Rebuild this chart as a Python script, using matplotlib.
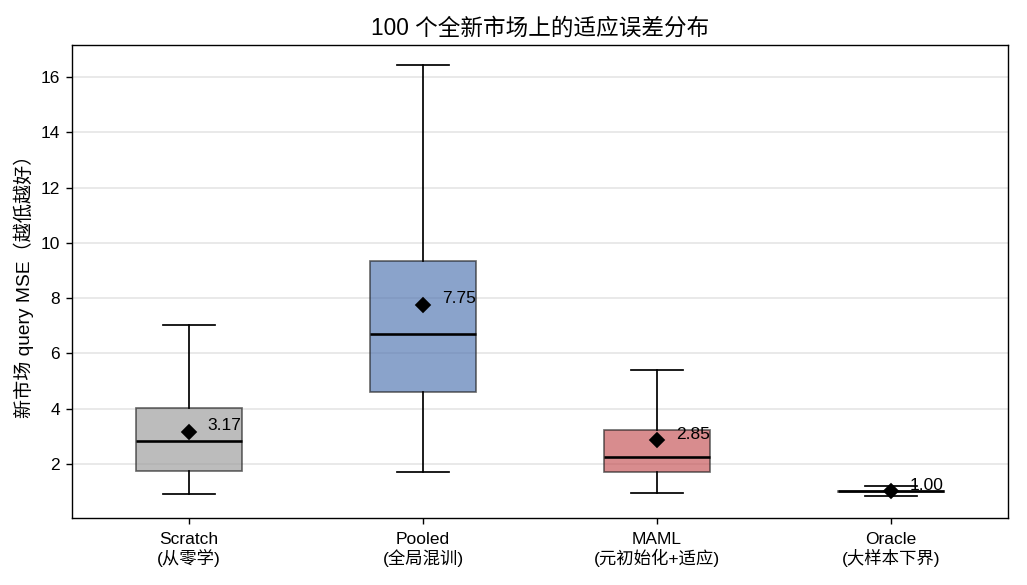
import matplotlib.pyplot as plt

plt.rcParams['font.family'] = ['Liberation Sans', 'Noto Sans CJK SC', 'DejaVu Sans']

# box statistics
labels = ['Scratch\n(从零学)', 'Pooled\n(全局混训)', 'MAML\n(元初始化+适应)', 'Oracle\n(大样本下界)']
whislo = [0.91, 1.71, 0.95, 0.85]
q1 = [1.75, 4.60, 1.71, 0.98]
med = [2.83, 6.70, 2.25, 1.00]
q3 = [4.03, 9.34, 3.23, 1.03]
whishi = [7.03, 16.43, 5.40, 1.21]
means = [3.17, 7.75, 2.85, 1.00]
colors = ['#999999', '#4c72b0', '#c44e52', '#999999']

stats = []
for i in range(len(labels)):
    stats.append({'label': labels[i], 'whislo': whislo[i], 'q1': q1[i], 'med': med[i],
                  'q3': q3[i], 'whishi': whishi[i], 'mean': means[i], 'fliers': []})

fig, ax = plt.subplots(figsize=(1027 / 125, 585 / 125), dpi=125)

bp = ax.bxp(stats, widths=0.45, patch_artist=True, showmeans=True, showfliers=False,
            medianprops=dict(color='black', linewidth=1.5),
            meanprops=dict(marker='D', markerfacecolor='black', markeredgecolor='black', markersize=6),
            whiskerprops=dict(color='black', linewidth=1.0),
            capprops=dict(color='black', linewidth=1.0))

for patch, c in zip(bp['boxes'], colors):
    patch.set_facecolor(c)
    patch.set_alpha(0.65)
    patch.set_edgecolor('#222222')

# mean value next to each diamond
for i, m in enumerate(means):
    ax.text(i + 1 + 0.08, m - 0.05, f'{m:.2f}', fontsize=10, va='bottom', ha='left')

ax.set_xlim(0.5, 4.5)
ax.set_ylim(0.04, 17.16)
ax.set_yticks([2, 4, 6, 8, 10, 12, 14, 16])
ax.yaxis.grid(True, color='#e6e6e6', linewidth=1.0)
ax.set_axisbelow(True)
ax.tick_params(labelsize=10)
ax.tick_params(axis='x', pad=4.5)
for t in ax.get_xticklabels():
    t.set_linespacing(1.15)
ax.set_ylabel('新市场 query MSE（越低越好）', fontsize=11)
ax.set_title('100 个全新市场上的适应误差分布', fontsize=13)

plt.subplots_adjust(left=0.0701, right=0.9815, top=0.923, bottom=0.1145)
plt.savefig('out.png', dpi=125)
